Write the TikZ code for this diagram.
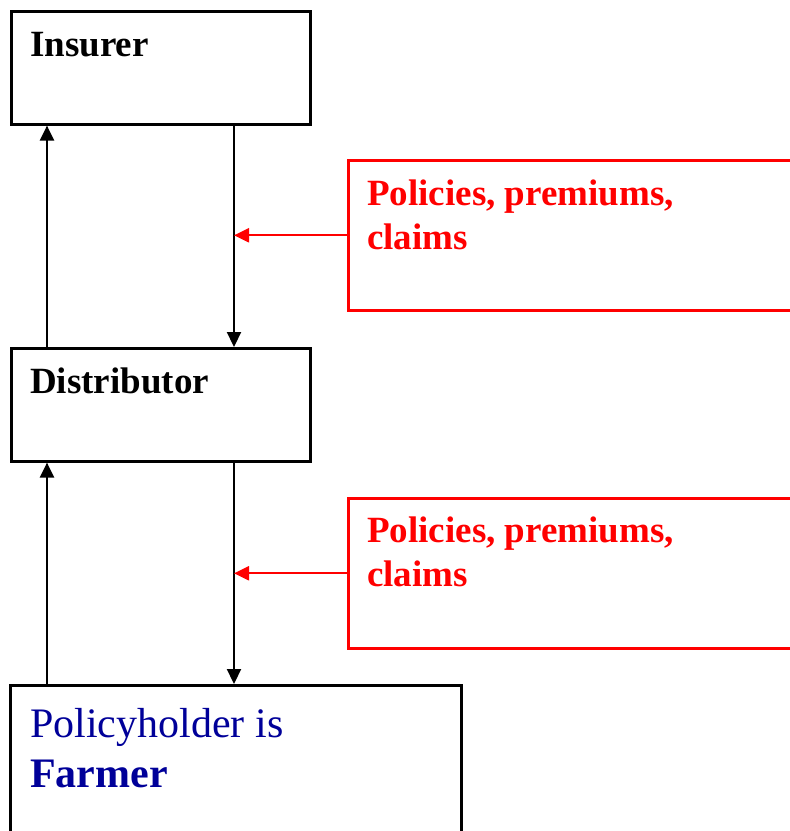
\documentclass[tikz,border=0pt]{standalone}
\usepackage{fontspec}
\setmainfont{Liberation Serif}
\usetikzlibrary{arrows.meta,calc}
\definecolor{navy}{RGB}{0,0,153}
\tikzset{
  bbox/.style={draw=black, line width=2.6pt, rectangle, inner sep=0pt, anchor=north west},
  rbox/.style={draw=red, line width=2.6pt, rectangle, inner sep=0pt, anchor=north west},
  blab/.style={anchor=base west, inner sep=0pt, font=\fontsize{37}{44}\selectfont\bfseries},
  rlab/.style={anchor=base west, inner sep=0pt, align=left, text=red, font=\fontsize{37}{44}\selectfont\bfseries},
  flab/.style={anchor=base west, inner sep=0pt, align=left, text=navy, font=\fontsize{42}{50}\selectfont},
  arr/.style={line width=2.2pt, -{Triangle[length=15pt,width=14pt]}},
  rarr/.style={draw=red, line width=2.2pt, -{Triangle[length=15pt,width=14pt]}, red}
}
\begin{document}
\begin{tikzpicture}[x=1pt,y=-1pt]
\useasboundingbox (0,0) rectangle (790,831);
\clip (0,0) rectangle (790,831);
% boxes
\node[bbox, minimum width=299pt, minimum height=113pt] (ins) at (10,10) {};
\node[bbox, minimum width=299pt, minimum height=113pt] (dist) at (10,347) {};
\node[bbox, minimum width=451pt, minimum height=180pt] (farm) at (9,684) {};
\node[rbox, minimum width=470pt, minimum height=150pt] (r1) at (347,159) {};
\node[rbox, minimum width=470pt, minimum height=150pt] (r2) at (347,497) {};
% labels (multi-line nodes: base is the last line)
\node[blab] (tins) at (30,56) {Insurer};
\node[blab] (tdist) at (30,393) {Distributor};
\node[rlab] (tr1) at (367,249) {Policies, premiums,\\claims};
\node[rlab] (tr2) at (367,586) {Policies, premiums,\\claims};
\node[flab] (tfarm) at (30,787) {Policyholder is\\\textbf{Farmer}};
% x positions of the vertical connectors
\coordinate (xl) at (47,0);
\coordinate (xr) at (234,0);
% connectors
\draw[arr] (dist.north -| xl) -- (ins.south -| xl);
\draw[arr] (ins.south -| xr) -- (dist.north -| xr);
\draw[arr] (farm.north -| xl) -- (dist.south -| xl);
\draw[arr] (dist.south -| xr) -- (farm.north -| xr);
\draw[rarr] (r1.west) -- (r1.west -| xr);
\draw[rarr] (r2.west) -- (r2.west -| xr);
\end{tikzpicture}
\end{document}
